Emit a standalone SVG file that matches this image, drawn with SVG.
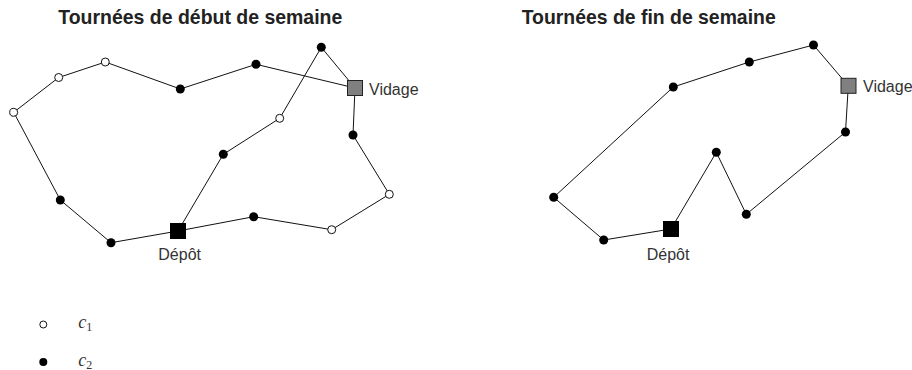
<svg xmlns="http://www.w3.org/2000/svg" width="912" height="370" viewBox="0 0 912 370">
<style>
.title{font-family:"Liberation Sans",Arial,sans-serif;font-weight:bold;font-size:19.3px;fill:#222}
.lbl{font-family:"Liberation Sans",Arial,sans-serif;font-size:16px;fill:#333}
.edge{stroke:#111;stroke-width:1;fill:none}
.w{fill:#fff;stroke:#111;stroke-width:1}
.b{fill:#000}
.depot{fill:#000}
.vidage{fill:#808080;stroke:#222;stroke-width:1}
.math{font-family:"Liberation Serif","Times New Roman",serif;font-style:italic;font-size:18px;fill:#333}
.sub{font-family:"Liberation Serif","Times New Roman",serif;font-size:12px;fill:#333}
</style>
<rect width="912" height="370" fill="#fff"/>
<text class="title" x="58.3" y="24" textLength="284" lengthAdjust="spacingAndGlyphs">Tournées de début de semaine</text>
<text class="title" x="521.7" y="24" textLength="254" lengthAdjust="spacingAndGlyphs">Tournées de fin de semaine</text>
<g id="connectors">
<polyline class="edge" points="105.3,62 58.7,77.5 13.7,112.3 60.3,200 111,242.7 178,231 253.7,216.7 331.7,229.7 389.3,194.3 353,135 355,88 256,64.3 180.3,89 105.3,62"/>
<polyline class="edge" points="355,88 321.3,47.3 279.7,118.3 223.3,154.3 178,231"/>
<polyline class="edge" points="671,229 716.3,152.3 746.3,214.3 845.5,132 848.3,85.8 813.5,45 749.3,62 673.3,87 553.7,197.3 603.7,240 671,229"/>
</g>
<g id="left-nodes">
<circle id="l1" class="w" cx="105.3" cy="62" r="4"/>
<circle id="l2" class="w" cx="58.7" cy="77.5" r="4"/>
<circle id="l3" class="w" cx="13.7" cy="112.3" r="4"/>
<circle id="l4" class="b" cx="60.3" cy="200" r="4.5"/>
<circle id="l5" class="b" cx="111" cy="242.7" r="4.5"/>
<circle id="l6" class="b" cx="253.7" cy="216.7" r="4.5"/>
<circle id="l7" class="w" cx="331.7" cy="229.7" r="4"/>
<circle id="l8" class="w" cx="389.3" cy="194.3" r="4"/>
<circle id="l9" class="b" cx="353" cy="135" r="4.5"/>
<circle id="l10" class="b" cx="256" cy="64.3" r="4.5"/>
<circle id="l11" class="b" cx="180.3" cy="89" r="4.5"/>
<circle id="l12" class="b" cx="321.3" cy="47.3" r="4.5"/>
<circle id="l13" class="w" cx="279.7" cy="118.3" r="4"/>
<circle id="l14" class="b" cx="223.3" cy="154.3" r="4.5"/>
</g>
<g id="left-depot">
<rect class="depot" x="170" y="223" width="16" height="16"/>
<text class="lbl" x="158.3" y="260">Dépôt</text>
</g>
<g id="left-vidage">
<rect class="vidage" x="347.5" y="80.5" width="15" height="15"/>
<text class="lbl" x="369" y="94.5">Vidage</text>
</g>
<g id="right-nodes">
<circle id="r1" class="b" cx="716.3" cy="152.3" r="4.5"/>
<circle id="r2" class="b" cx="746.3" cy="214.3" r="4.5"/>
<circle id="r3" class="b" cx="845.5" cy="132" r="4.5"/>
<circle id="r4" class="b" cx="813.5" cy="45" r="4.5"/>
<circle id="r5" class="b" cx="749.3" cy="62" r="4.5"/>
<circle id="r6" class="b" cx="673.3" cy="87" r="4.5"/>
<circle id="r7" class="b" cx="553.7" cy="197.3" r="4.5"/>
<circle id="r8" class="b" cx="603.7" cy="240" r="4.5"/>
</g>
<g id="right-depot">
<rect class="depot" x="663" y="221" width="16" height="16"/>
<text class="lbl" x="646.7" y="260">Dépôt</text>
</g>
<g id="right-vidage">
<rect class="vidage" x="841" y="78.3" width="15" height="15"/>
<text class="lbl" x="863" y="92.3">Vidage</text>
</g>
<g id="legend">
<circle class="w" cx="43.3" cy="324.5" r="3.5"/>
<text x="78.3" y="328.3"><tspan class="math">c</tspan><tspan class="sub" dy="2.5">1</tspan></text>
<circle class="b" cx="43.3" cy="362" r="4"/>
<text x="78.3" y="366"><tspan class="math">c</tspan><tspan class="sub" dy="2.5">2</tspan></text>
</g>
</svg>
